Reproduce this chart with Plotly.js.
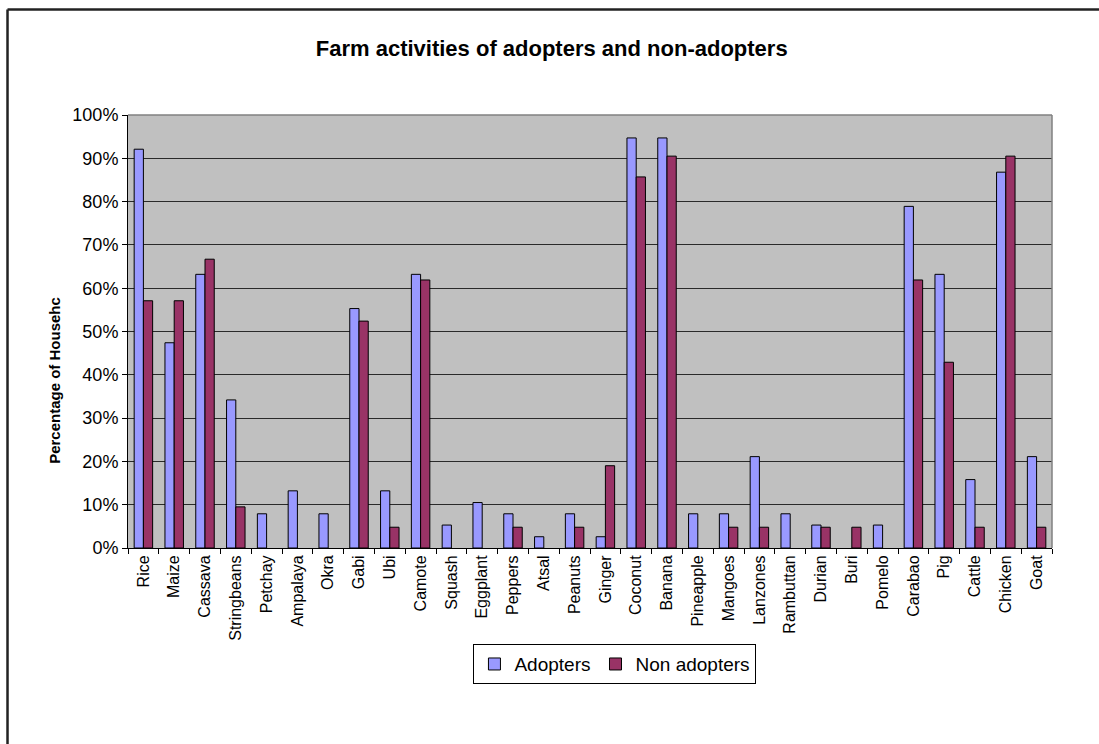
<!DOCTYPE html>
<html>
<head>
<meta charset="utf-8">
<script src="https://cdn.plot.ly/plotly-3.0.1.min.js"></script>
<style>
  html, body { margin: 0; padding: 0; background: #fff; }
  #chart { width: 1099px; height: 744px; }
</style>
</head>
<body>
<div id="chart"></div>
<script>
const categories = ["Rice","Maize","Cassava","Stringbeans","Petchay","Ampalaya","Okra","Gabi","Ubi","Camote","Squash","Eggplant","Peppers","Atsal","Peanuts","Ginger","Coconut","Banana","Pineapple","Mangoes","Lanzones","Rambuttan","Durian","Buri","Pomelo","Carabao","Pig","Cattle","Chicken","Goat"];
const adopters = [92.1,47.4,63.2,34.2,7.9,13.2,7.9,55.3,13.2,63.2,5.3,10.5,7.9,2.6,7.9,2.6,94.7,94.7,7.9,7.9,21.1,7.9,5.3,0,5.3,78.9,63.2,15.8,86.8,21.1];
const nonAdopters = [57.1,57.1,66.7,9.5,0,0,0,52.4,4.8,61.9,0,0,4.8,0,4.8,19.0,85.7,90.5,0,4.8,4.8,0,4.8,4.8,0,61.9,42.9,4.8,90.5,4.8];
const seriesNames = ["Adopters","Non adopters"];
const chartTitle = "Farm activities of adopters and non-adopters";
const yTitle = "Percentage of Househc";

const FONT = '"Liberation Sans", Arial, sans-serif';
// zero-height bars are not drawn in the reference
const noZero = arr => arr.map(v => (v === 0 ? null : v));

const traces = [
  { type: 'bar', name: seriesNames[0], x: categories, y: noZero(adopters),
    marker: { color: '#9999FF', line: { color: '#000', width: 1 } } },
  { type: 'bar', name: seriesNames[1], x: categories, y: noZero(nonAdopters),
    marker: { color: '#993366', line: { color: '#000', width: 1 } } }
];

const layout = {
  width: 1099, height: 744,
  margin: { l: 128, r: 47, t: 115, b: 196, pad: 0 },
  paper_bgcolor: '#ffffff',
  plot_bgcolor: '#C0C0C0',
  font: { family: FONT, color: '#000' },
  title: { text: '<b>' + chartTitle + '</b>', font: { size: 22, family: FONT, color: '#000' },
           x: 0.502, xref: 'container', xanchor: 'center', y: 0.935, yref: 'container', yanchor: 'middle' },
  barmode: 'group',
  bargap: 0.4,
  bargroupgap: 0,
  showlegend: true,
  legend: { orientation: 'h', x: 0.527, xanchor: 'center', y: -0.222, yanchor: 'top',
            bordercolor: '#000', borderwidth: 1, bgcolor: '#fff',
            font: { size: 19, family: FONT }, traceorder: 'normal', itemwidth: 30 },
  xaxis: {
    type: 'category', tickangle: -90, tickson: 'boundaries',
    ticks: 'outside', ticklen: 5, tickcolor: '#000',
    showline: true, linecolor: '#000', linewidth: 1,
    showgrid: false, tickfont: { size: 16, family: FONT }, fixedrange: true
  },
  yaxis: {
    range: [0, 100], dtick: 10, ticksuffix: '%',
    ticks: 'outside', ticklen: 5, tickcolor: '#000',
    showline: true, linecolor: '#000', linewidth: 1,
    showgrid: true, gridcolor: '#2a2a2a', gridwidth: 1, zeroline: false,
    tickfont: { size: 18, family: FONT }, fixedrange: true
  },
  annotations: [
    { text: '<b>' + yTitle + '</b>', xref: 'paper', yref: 'paper',
      x: -0.079, y: 0.386, xanchor: 'center', yanchor: 'middle',
      textangle: -90, showarrow: false, font: { size: 15, family: FONT } }
  ],
  shapes: [
    { type: 'line', xref: 'paper', yref: 'paper', x0: 0, x1: 1, y0: 1, y1: 1, line: { color: '#808080', width: 1.5 } },
    { type: 'line', xref: 'paper', yref: 'paper', x0: 1, x1: 1, y0: 0, y1: 1, line: { color: '#808080', width: 1.5 } },
    { type: 'line', xref: 'paper', yref: 'paper', x0: -0.1304, x1: 1.06, y0: 1.2436, y1: 1.2436, line: { color: '#222', width: 2.5 } },
    { type: 'line', xref: 'paper', yref: 'paper', x0: -0.1304, x1: -0.1304, y0: -0.46, y1: 1.2436, line: { color: '#222', width: 2.5 } }
  ]
};

Plotly.newPlot('chart', traces, layout, { displayModeBar: false, staticPlot: true });
</script>
</body>
</html>
